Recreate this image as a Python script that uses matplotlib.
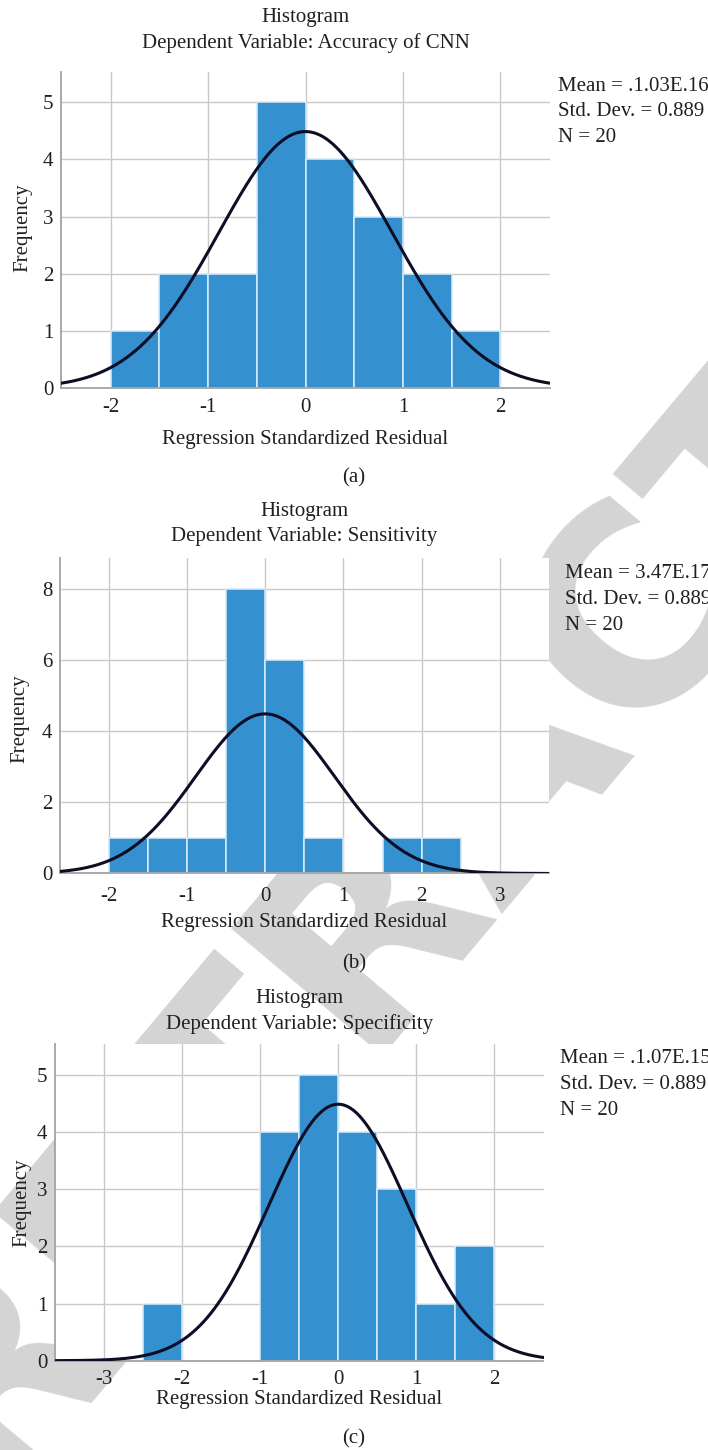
import numpy as np
import matplotlib
matplotlib.use("Agg")
import matplotlib.pyplot as plt

# ---------------- data ----------------
N_CASES = 20
STD_DEV = 0.889
MEAN_VAL = 0.0
BIN_WIDTH = 0.5

a_bin_left = [-2.0, -1.5, -1.0, -0.5, 0.0, 0.5, 1.0, 1.5]
a_counts = [1, 2, 2, 5, 4, 3, 2, 1]
a_xticks = [-2, -1, 0, 1, 2]
a_yticks = [0, 1, 2, 3, 4, 5]
a_dep = "Dependent Variable: Accuracy of CNN"
a_stats = ["Mean = .1.03E.16", "Std. Dev. = 0.889", "N = 20"]

b_bin_left = [-2.0, -1.5, -1.0, -0.5, 0.0, 0.5, 1.0, 1.5, 2.0]
b_counts = [1, 1, 1, 8, 6, 1, 0, 1, 1]
b_xticks = [-2, -1, 0, 1, 2, 3]
b_yticks = [0, 2, 4, 6, 8]
b_dep = "Dependent Variable: Sensitivity"
b_stats = ["Mean = 3.47E.17", "Std. Dev. = 0.889", "N = 20"]

c_bin_left = [-2.5, -2.0, -1.5, -1.0, -0.5, 0.0, 0.5, 1.0, 1.5]
c_counts = [1, 0, 0, 4, 5, 4, 3, 1, 2]
c_xticks = [-3, -2, -1, 0, 1, 2]
c_yticks = [0, 1, 2, 3, 4, 5]
c_dep = "Dependent Variable: Specificity"
c_stats = ["Mean = .1.07E.15", "Std. Dev. = 0.889", "N = 20"]

# ---------------- style ----------------
W, H = 708, 1450
plt.rcParams["font.family"] = ["Liberation Serif", "DejaVu Serif"]
TXT = "#231f20"
BAR = "#3590d0"
FS = 15

fig = plt.figure(figsize=(W / 100, H / 100), dpi=100)
fig.patch.set_facecolor("white")


def fx(px):
    return px / W


def fy(py):
    return 1 - py / H


# watermark
fig.text(fx(505), fy(765), "RETRACTED", rotation=50, rotation_mode="anchor",
         ha="center", va="center", fontsize=195, fontweight="bold",
         family="DejaVu Sans", color="#d4d4d4", zorder=-5)

panels = [
    dict(left=a_bin_left, counts=a_counts, xt=a_xticks, yt=a_yticks, dep=a_dep,
         stats=a_stats, L=61, R=550, T=72, B=388, xlim=(-2.51, 2.51), ytop=5.53,
         t1=17.5, t2=43, pad=7.0, xl=439.5, tag="(a)", tagy=477.5,
         sx=558, sy=[86.5, 112, 137.5], ylab=(23, 228)),
    dict(left=b_bin_left, counts=b_counts, xt=b_xticks, yt=b_yticks, dep=b_dep,
         stats=b_stats, L=60, R=548.5, T=558, B=873.5, xlim=(-2.62, 3.62), ytop=8.87,
         t1=511.5, t2=537, pad=9.8, xl=923, tag="(b)", tagy=964,
         sx=565, sy=[573.5, 599.5, 625], ylab=(20, 719)),
    dict(left=c_bin_left, counts=c_counts, xt=c_xticks, yt=c_yticks, dep=c_dep,
         stats=c_stats, L=55, R=543.5, T=1043.5, B=1360.7, xlim=(-3.63, 2.63), ytop=5.55,
         t1=998.5, t2=1024, pad=6.6, xl=1399.5, tag="(c)", tagy=1438.5,
         sx=560, sy=[1058.5, 1084.5, 1110.5], ylab=(22, 1203)),
]

for p in panels:
    ax = fig.add_axes([fx(p["L"]), fy(p["B"]), (p["R"] - p["L"]) / W, (p["B"] - p["T"]) / H])
    ax.set_facecolor("white")
    ax.bar(p["left"], p["counts"], width=BIN_WIDTH, align="edge", color=BAR,
           edgecolor="#d8ecfa", linewidth=1.1, zorder=2)
    xs = np.linspace(p["xlim"][0], p["xlim"][1], 400)
    ys = N_CASES * BIN_WIDTH / (STD_DEV * np.sqrt(2 * np.pi)) * np.exp(-0.5 * ((xs - MEAN_VAL) / STD_DEV) ** 2)
    ax.plot(xs, ys, color="#0d0d26", lw=2.2, zorder=3)
    ax.set_xlim(*p["xlim"])
    ax.set_ylim(0, p["ytop"])
    ax.set_xticks(p["xt"])
    ax.set_yticks(p["yt"])
    ax.set_xticklabels([str(v) for v in p["xt"]])
    ax.set_yticklabels([str(v) for v in p["yt"]])
    ax.grid(True, color="#c9c9c9", lw=1.0, zorder=0)
    ax.set_axisbelow(True)
    for s in ["top", "right"]:
        ax.spines[s].set_visible(False)
    for s in ["left", "bottom"]:
        ax.spines[s].set_color("#a3a3a3")
        ax.spines[s].set_linewidth(1.3)
    ax.tick_params(axis="both", length=0, labelsize=FS, labelcolor=TXT)
    ax.tick_params(axis="x", pad=p["pad"])
    ax.tick_params(axis="y", pad=5.5)

    cx = (p["L"] + p["R"]) / 2
    fig.text(fx(cx), fy(p["t1"]), "Histogram", ha="center", va="center", fontsize=FS, color=TXT)
    fig.text(fx(cx), fy(p["t2"]), p["dep"], ha="center", va="center", fontsize=FS, color=TXT)
    fig.text(fx(cx), fy(p["xl"]), "Regression Standardized Residual", ha="center",
             va="center", fontsize=FS, color=TXT)
    fig.text(fx(354), fy(p["tagy"]), p["tag"], ha="center", va="center", fontsize=FS, color=TXT)
    fig.text(fx(p["ylab"][0]), fy(p["ylab"][1]), "Frequency", rotation=90, ha="center",
             va="center", fontsize=FS, color=TXT)
    for line, yy in zip(p["stats"], p["sy"]):
        fig.text(fx(p["sx"]), fy(yy), line, ha="left", va="center", fontsize=FS, color=TXT)

fig.savefig("out.png", dpi=100, facecolor="white")
